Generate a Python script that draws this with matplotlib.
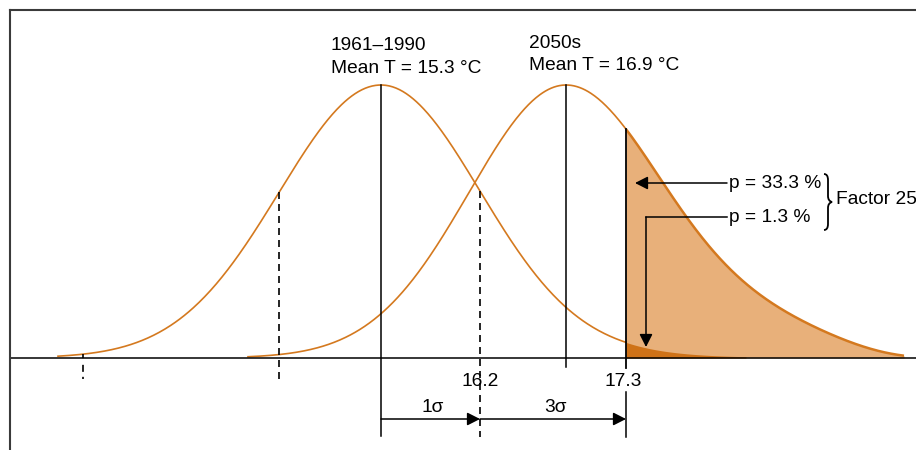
import numpy as np
import matplotlib
matplotlib.use("Agg")
import matplotlib.pyplot as plt
from matplotlib.path import Path
from matplotlib.patches import PathPatch

plt.rcParams['font.family'] = ['Liberation Sans', 'DejaVu Sans']

# ---- schematic data (positions in the schematic's own horizontal units) ----
periods = ['1961–1990', '2050s']
mean_temps = [15.3, 16.9]
mean_pos = [381, 566]                 # schematic position of each mean
# half-curve shapes: (core width, tail width, tail weight, cut-off length)
left_shape = [(102, 160, 0.0, None), (97, 160, 0.0, None)]
right_shape = [(98, 160, 0.05, None), (85, 168, 0.37, 315)]
threshold_labels = ['16.2', '17.3']
threshold_pos = [480, 626]
sigma_labels = ['1σ', '3σ']
prob_labels = ['p = 33.3 %', 'p = 1.3 %']
factor_label = 'Factor 25'

W, H = 916, 450
BASE = 358      # baseline (zero density)
PEAK = 273      # peak height

ORANGE = '#d4791f'
LIGHT = '#e8b07a'
DARK = '#cf7217'

fig = plt.figure(figsize=(W / 100, H / 100), dpi=100)
ax = fig.add_axes([0, 0, 1, 1])
ax.set_xlim(0, W)
ax.set_ylim(H, 0)
ax.axis('off')


def half(d, shape):
    s1, s2, a, L = shape
    h = (1 - a) * np.exp(-0.5 * (d / s1) ** 2) + a * np.exp(-0.5 * (d / s2) ** 2)
    if L is not None:
        h = h * np.exp(-(d / L) ** 8)
    return h


def curve(x, i):
    x = np.asarray(x, dtype=float)
    d = x - mean_pos[i]
    h = np.where(d < 0, half(np.abs(d), left_shape[i]), half(np.abs(d), right_shape[i]))
    return BASE - PEAK * h


m1, m2 = mean_pos
t1, t2 = threshold_pos

# fills
xf2 = np.linspace(t2, m2 + 338, 300)
ax.fill_between(xf2, curve(xf2, 1), BASE, color=LIGHT, lw=0, zorder=1)
xf1 = np.linspace(t2, m1 + 365, 200)
ax.fill_between(xf1, curve(xf1, 0), BASE, color=DARK, lw=0, zorder=2)

# curves
x1 = np.linspace(m1 - 323, t2, 500)
ax.plot(x1, curve(x1, 0), color=ORANGE, lw=1.2, zorder=3)
x2 = np.linspace(m2 - 318, t2, 400)
ax.plot(x2, curve(x2, 1), color=ORANGE, lw=1.2, zorder=3)
ax.plot(xf2, curve(xf2, 1), color=ORANGE, lw=1.8, zorder=3,
        solid_capstyle='butt')

# frame
ax.plot([10, W], [10, 10], color='#3a3a3a', lw=1.5, zorder=5)
ax.plot([10, 10], [10, H], color='#3a3a3a', lw=1.5, zorder=5)

# baseline
ax.plot([10, W], [BASE, BASE], color='black', lw=1.1, zorder=4)

# mean lines
ax.plot([m1, m1], [curve(m1, 0), 436], color='black', lw=1.1, zorder=4)
ax.plot([m2, m2], [curve(m2, 1), 367], color='black', lw=1.1, zorder=4)
# threshold 17.3 solid line (broken for its label)
ax.plot([t2, t2], [curve(t2, 1), 368], color='black', lw=1.3, zorder=4)
ax.plot([t2, t2], [392, 437], color='black', lw=1.1, zorder=4)

# dashed sigma lines of the 1961-1990 curve
dash = (0, (4.2, 3.0))
ax.plot([t1, t1], [curve(t1, 0), 437], color='black', lw=1.2,
        linestyle=dash, zorder=4)
xl1 = m1 - left_shape[0][0]
ax.plot([xl1, xl1], [curve(xl1, 0), 380], color='black', lw=1.2,
        linestyle=dash, zorder=4)
xl3 = 83
ax.plot([xl3, xl3], [354, 379], color='black', lw=1.2,
        linestyle=(0, (2.5, 4.0, 4.2, 3.0)), zorder=4)

FS = 13.8
# mean titles
for name, temp, xt, yt in zip(periods, mean_temps, [331, 529], [46, 43]):
    ax.text(xt, yt, name, fontsize=FS, ha='left', va='center')
    ax.text(xt, yt + 22.5, f'Mean T = {temp} °C', fontsize=FS, ha='left', va='center')

# threshold labels
for lab, xp, dx in zip(threshold_labels, threshold_pos, [0, -3]):
    ax.text(xp + dx, 381, lab, fontsize=FS, ha='center', va='center')

# sigma arrows
arrow_kw = dict(arrowstyle='-|>,head_length=0.55,head_width=0.28',
                mutation_scale=14, shrinkA=0, shrinkB=0, lw=1.1, color='black')
starts = [m1, t1]
ends = [t1, t2]
for lab, xs, xe in zip(sigma_labels, starts, ends):
    ax.annotate('', xy=(xe, 419), xytext=(xs, 419), arrowprops=arrow_kw, zorder=6)
    ax.text((xs + xe) / 2 + 2, 407, lab, fontsize=FS, ha='center', va='center')

# probability annotations
ax.annotate('', xy=(635, 183), xytext=(727, 183), arrowprops=arrow_kw, zorder=6)
ax.text(729, 183, prob_labels[0], fontsize=FS, ha='left', va='center')
ax.plot([727, 646], [217, 217], color='black', lw=1.1, zorder=6)
ax.annotate('', xy=(646, 347), xytext=(646, 217), arrowprops=arrow_kw, zorder=6)
ax.text(729, 217, prob_labels[1], fontsize=FS, ha='left', va='center')

# brace
bx, top, bot = 824, 174, 230
mid = (top + bot) / 2
verts = [(bx, top), (bx + 4, top), (bx + 4, top + 6),
         (bx + 4, mid - 6), (bx + 4, mid - 1), (bx + 8, mid),
         (bx + 4, mid + 1), (bx + 4, mid + 6),
         (bx + 4, bot - 6), (bx + 4, bot), (bx, bot)]
codes = [Path.MOVETO, Path.CURVE3, Path.CURVE3,
         Path.LINETO, Path.CURVE3, Path.CURVE3,
         Path.CURVE3, Path.CURVE3,
         Path.LINETO, Path.CURVE3, Path.CURVE3]
ax.add_patch(PathPatch(Path(verts, codes), fill=False, lw=1.3, color='black', zorder=6))
ax.text(836, 200, factor_label, fontsize=FS, ha='left', va='center')

fig.savefig('out.png', dpi=100)
